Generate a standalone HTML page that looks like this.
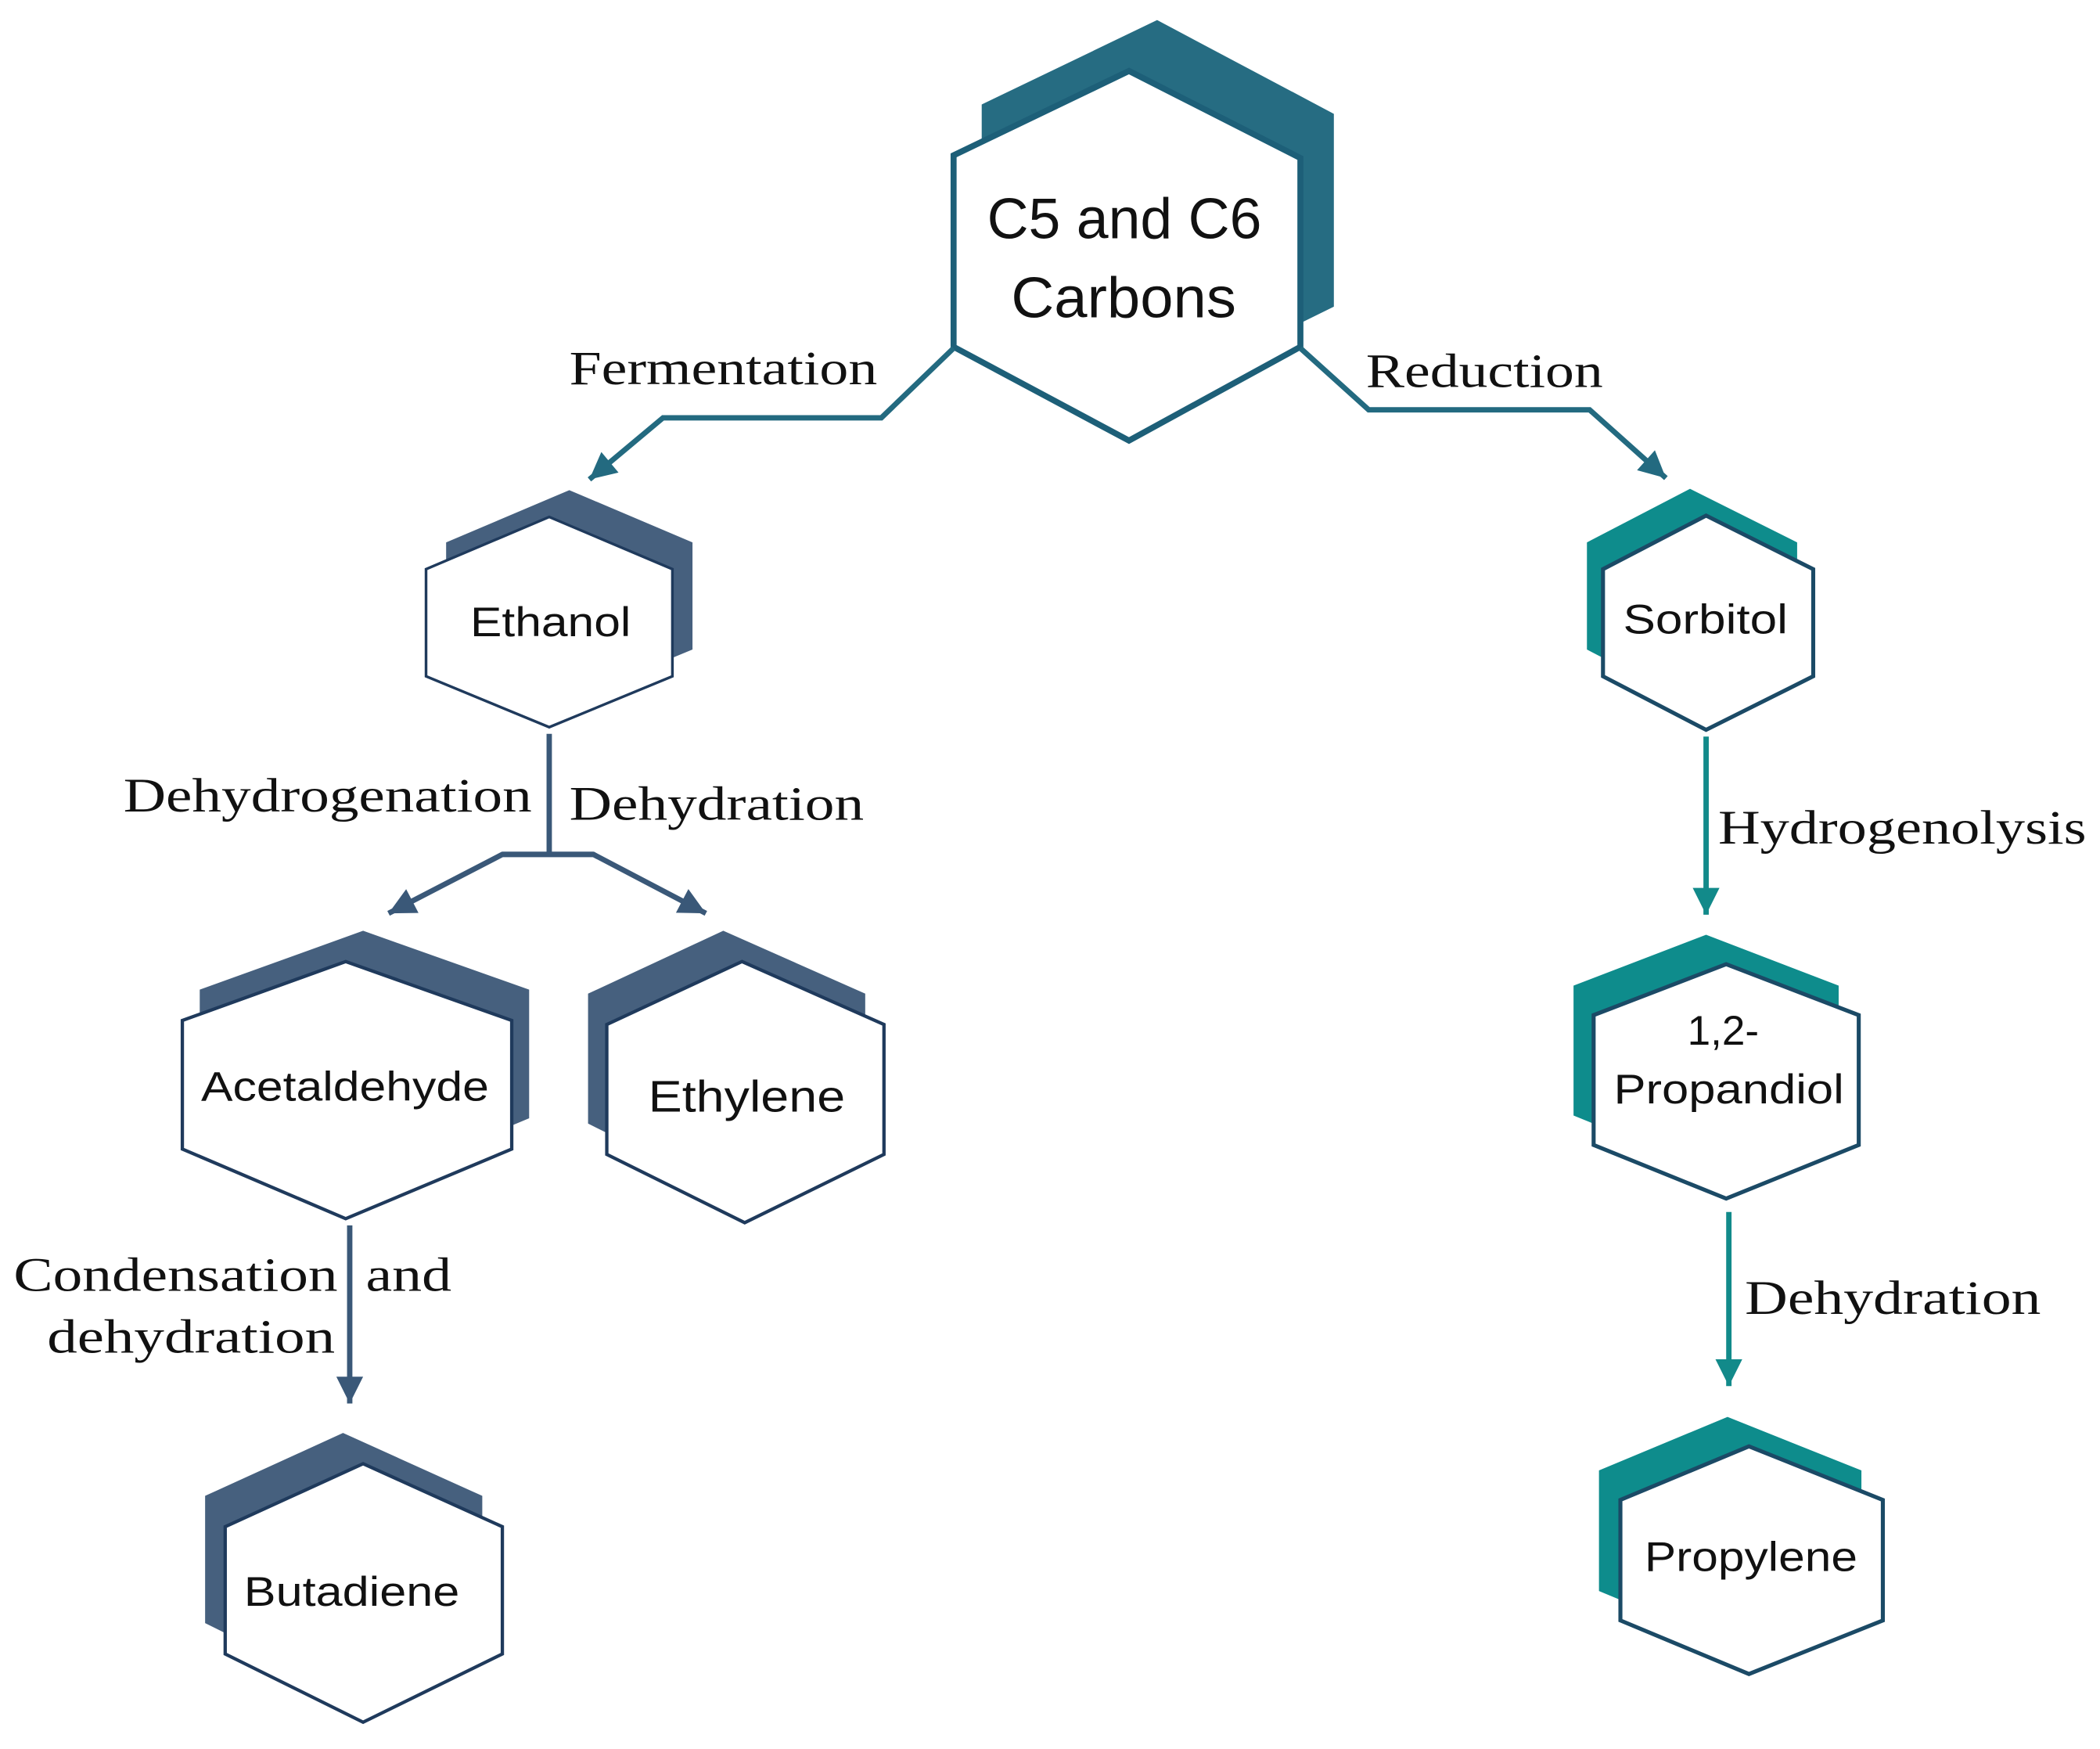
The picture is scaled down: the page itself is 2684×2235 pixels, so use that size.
<!DOCTYPE html>
<html><head><meta charset="utf-8"><style>
html,body{margin:0;padding:0;background:#fff;}
svg{display:block}
.n{font-family:"Liberation Sans",sans-serif;fill:#111}
.l{font-family:"Liberation Serif",serif;fill:#111;font-size:36px}
</style></head><body>
<svg width="2684" height="2235" viewBox="0 0 1568 1306" xmlns="http://www.w3.org/2000/svg">
<defs>
<marker id="a1" refX="4" refY="0" markerWidth="40" markerHeight="40" orient="auto" markerUnits="userSpaceOnUse" style="overflow:visible"><path d="M-16,-10 L4,0 L-16,10 Z" fill="#236a80"/></marker>
<marker id="a2" refX="4" refY="0" markerWidth="40" markerHeight="40" orient="auto" markerUnits="userSpaceOnUse" style="overflow:visible"><path d="M-16,-10 L4,0 L-16,10 Z" fill="#3a5878"/></marker>
<marker id="a3" refX="4" refY="0" markerWidth="40" markerHeight="40" orient="auto" markerUnits="userSpaceOnUse" style="overflow:visible"><path d="M-16,-10 L4,0 L-16,10 Z" fill="#128a8a"/></marker>
</defs>
<rect width="1568" height="1306" fill="#fff"/>

<polygon points="733,78 864,15 996,85 996,229 864,294 733,229" fill="#266c82"/>
<polygon points="712,116 843,53 971,118 971,259 843,329 712,259" fill="#fff" stroke="#1d5f78" stroke-width="4.5"/>
<text class="n" x="737" y="178" font-size="43" textLength="205" lengthAdjust="spacingAndGlyphs">C5 and C6</text>
<text class="n" x="755" y="237" font-size="43" textLength="168" lengthAdjust="spacingAndGlyphs">Carbons</text>

<polyline points="712,260 658,312 495,312 440,358" fill="none" stroke="#236a80" stroke-width="4" marker-end="url(#a1)"/>
<polyline points="971,260 1022,306 1187,306 1244,357" fill="none" stroke="#236a80" stroke-width="4" marker-end="url(#a1)"/>
<text class="l" x="425" y="287" textLength="230" lengthAdjust="spacingAndGlyphs">Fermentation</text>
<text class="l" x="1020" y="289" textLength="177" lengthAdjust="spacingAndGlyphs">Reduction</text>

<polygon points="333,405 425,366 517,405 517,485 425,523 333,485" fill="#46607e"/>
<polygon points="318,425 410,386 502,425 502,505 410,543 318,505" fill="#fff" stroke="#1f3a5c" stroke-width="2"/>
<text class="n" x="351" y="475" font-size="31" textLength="120" lengthAdjust="spacingAndGlyphs">Ethanol</text>

<line x1="410" y1="548" x2="410" y2="638" stroke="#3a5878" stroke-width="4"/>
<polyline points="443,638 375,638 290,682" fill="none" stroke="#3a5878" stroke-width="4" marker-end="url(#a2)"/>
<polyline points="375,638 443,638 527,682" fill="none" stroke="#3a5878" stroke-width="4" marker-end="url(#a2)"/>
<text class="l" x="92" y="606" textLength="305" lengthAdjust="spacingAndGlyphs">Dehydrogenation</text>
<text class="l" x="425" y="612" textLength="220" lengthAdjust="spacingAndGlyphs">Dehydration</text>

<polygon points="149,739 271,695 395,739 395,835 271,887 149,835" fill="#46607e"/>
<polygon points="136,762 258,718 382,762 382,858 258,910 136,858" fill="#fff" stroke="#1f3a5c" stroke-width="2.5"/>
<text class="n" x="150" y="822" font-size="31" textLength="215" lengthAdjust="spacingAndGlyphs">Acetaldehyde</text>

<polygon points="439,742 540,695 646,742 646,839 542,890 439,839" fill="#46607e"/>
<polygon points="453,765 554,718 660,765 660,862 556,913 453,862" fill="#fff" stroke="#1f3a5c" stroke-width="2.5"/>
<text class="n" x="484" y="830" font-size="33" textLength="147" lengthAdjust="spacingAndGlyphs">Ethylene</text>

<line x1="261" y1="915" x2="261" y2="1048" stroke="#3a5878" stroke-width="4" marker-end="url(#a2)"/>
<text class="l" x="10" y="964" textLength="242" lengthAdjust="spacingAndGlyphs">Condensation</text>
<text class="l" x="273" y="964" textLength="64" lengthAdjust="spacingAndGlyphs">and</text>
<text class="l" x="35" y="1010" textLength="215" lengthAdjust="spacingAndGlyphs">dehydration</text>

<polygon points="153,1117 256,1070 360,1117 360,1212 256,1263 153,1212" fill="#46607e"/>
<polygon points="168,1140 271,1093 375,1140 375,1235 271,1286 168,1235" fill="#fff" stroke="#1f3a5c" stroke-width="2.5"/>
<text class="n" x="182" y="1199" font-size="31" textLength="161" lengthAdjust="spacingAndGlyphs">Butadiene</text>

<polygon points="1185,405 1262,365 1342,405 1342,485 1262,525 1185,485" fill="#0e8c8c"/>
<polygon points="1197,425 1274,385 1354,425 1354,505 1274,545 1197,505" fill="#fff" stroke="#1b4a66" stroke-width="3"/>
<text class="n" x="1212" y="473" font-size="31" textLength="123" lengthAdjust="spacingAndGlyphs">Sorbitol</text>

<line x1="1274" y1="550" x2="1274" y2="683" stroke="#128a8a" stroke-width="4" marker-end="url(#a3)"/>
<text class="l" x="1283" y="630" textLength="275" lengthAdjust="spacingAndGlyphs">Hydrogenolysis</text>

<polygon points="1175,736 1274,698 1373,736 1373,833 1274,873 1175,833" fill="#0e8c8c"/>
<polygon points="1190,758 1289,720 1388,758 1388,855 1289,895 1190,855" fill="#fff" stroke="#1b4a66" stroke-width="3"/>
<text class="n" x="1260" y="780" font-size="31">1,2-</text>
<text class="n" x="1205" y="824" font-size="31" textLength="172" lengthAdjust="spacingAndGlyphs">Propandiol</text>

<line x1="1291" y1="905" x2="1291" y2="1035" stroke="#128a8a" stroke-width="4" marker-end="url(#a3)"/>
<text class="l" x="1303" y="981" textLength="221" lengthAdjust="spacingAndGlyphs">Dehydration</text>

<polygon points="1194,1098 1290,1058 1390,1098 1390,1188 1290,1228 1194,1188" fill="#0e8c8c"/>
<polygon points="1210,1120 1306,1080 1406,1120 1406,1210 1306,1250 1210,1210" fill="#fff" stroke="#1b4a66" stroke-width="3"/>
<text class="n" x="1228" y="1173" font-size="31" textLength="159" lengthAdjust="spacingAndGlyphs">Propylene</text>
</svg>
</body></html>
